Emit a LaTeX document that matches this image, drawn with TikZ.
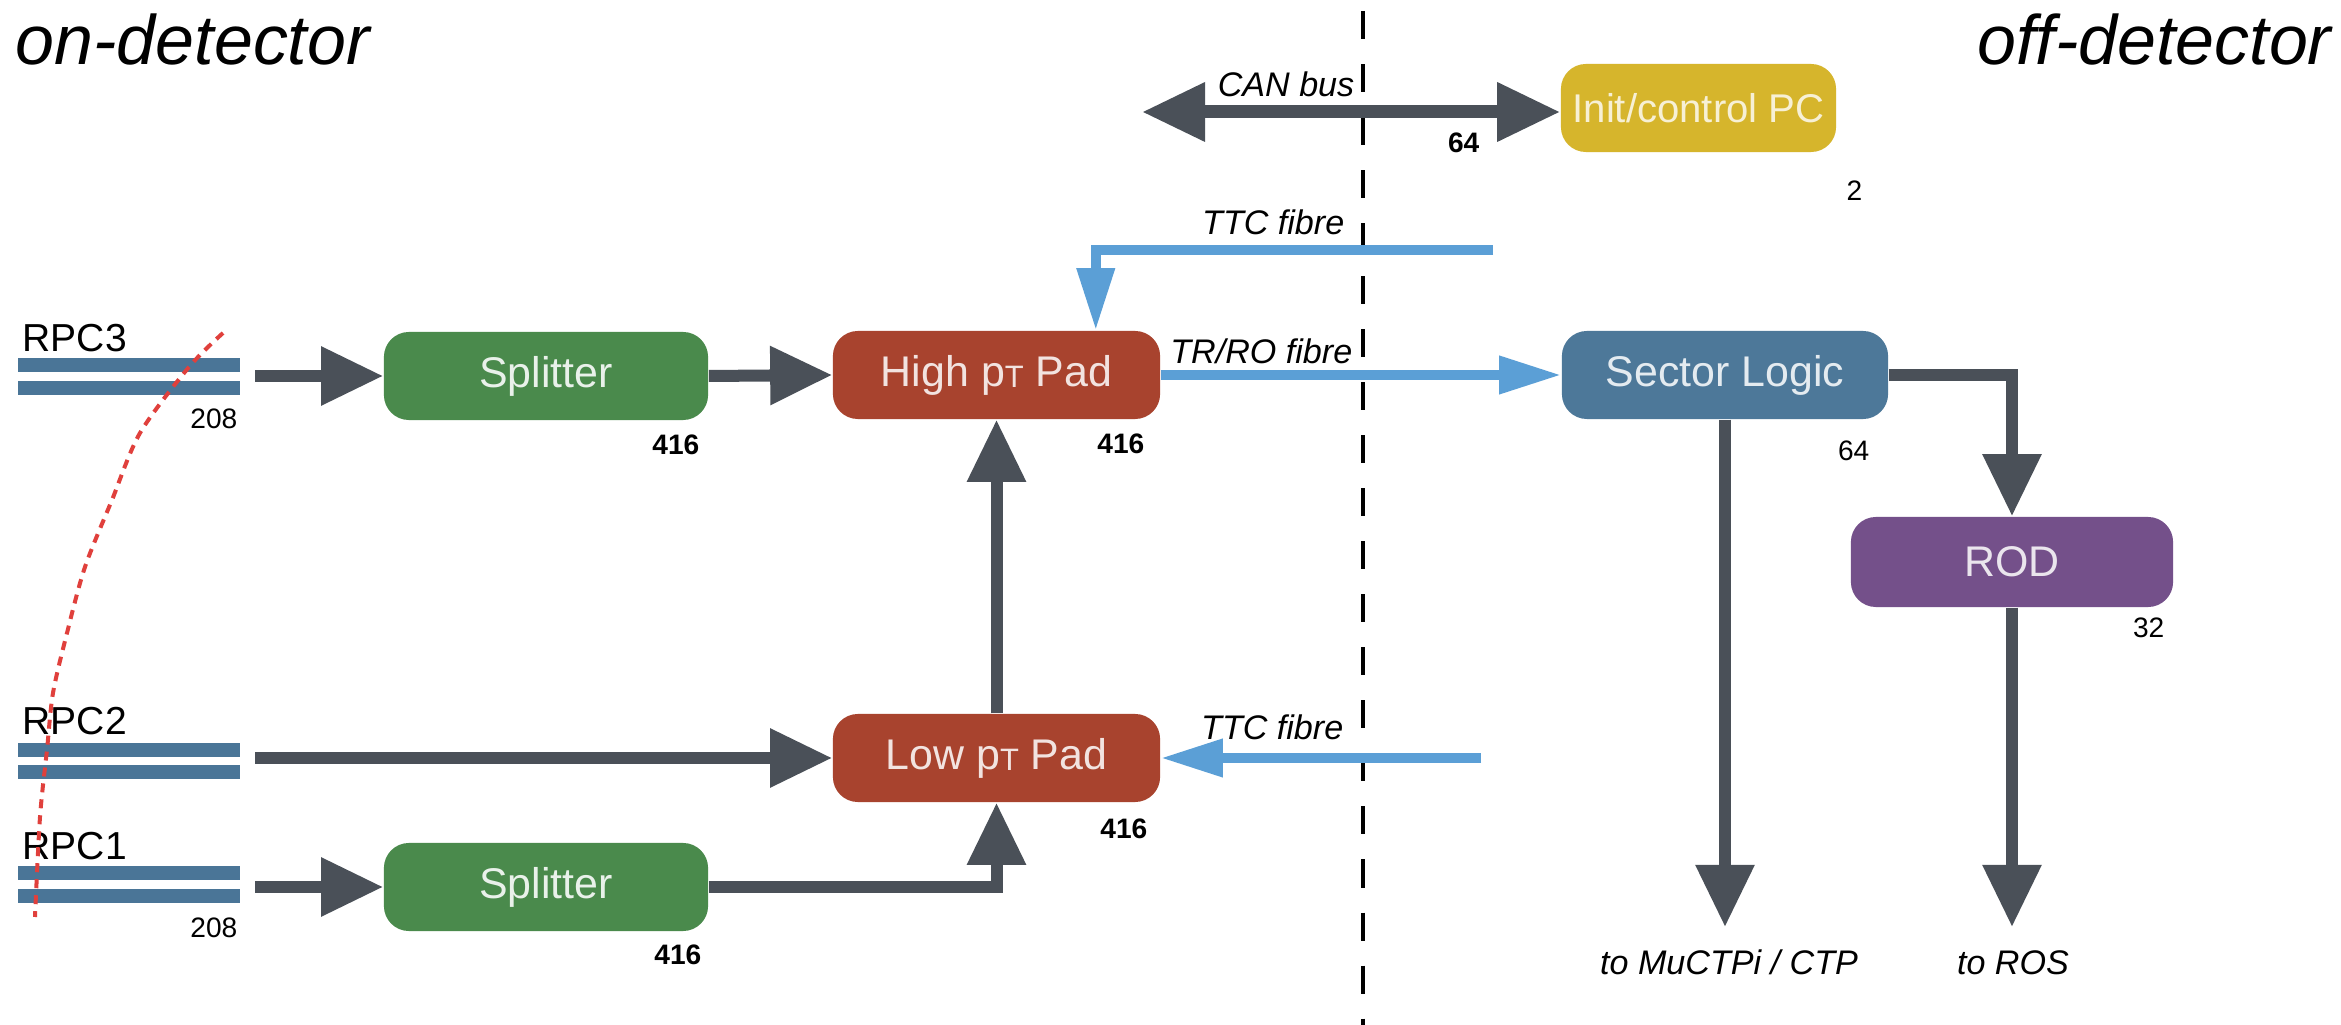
\documentclass[tikz,border=0pt]{standalone}
\usepackage{fontspec}
\setmainfont{Liberation Sans}
\usetikzlibrary{arrows.meta}
\definecolor{arrowgray}{HTML}{4A5058}
\definecolor{fibreblue}{HTML}{5B9FD6}
\definecolor{padred}{HTML}{A8432E}
\definecolor{splitgreen}{HTML}{4A8A4C}
\definecolor{slblue}{HTML}{4D7899}
\definecolor{rodpurple}{HTML}{74508A}
\definecolor{inityellow}{HTML}{D6B52C}
\definecolor{rpcblue}{HTML}{4A7597}
\definecolor{dashred}{HTML}{E0403C}
\newcommand{\pTsub}{p\raisebox{-0.3pt}{\fontsize{8.8}{9}\selectfont T}}
\begin{document}
\begin{tikzpicture}[x=0.01cm,y=-0.01cm,
  box/.style={rectangle, rounded corners=0.25cm, minimum height=0.88cm, inner sep=0pt,
    font=\fontsize{12.2}{14}\selectfont},
  bigarrow/.style={draw=arrowgray, line width=0.12cm, line join=miter,
    -{Triangle[width=0.56cm,length=0.62cm]}},
  fibre/.style={draw=fibreblue, line width=0.10cm, line join=miter,
    -{Triangle[width=0.36cm,length=0.62cm]}},
  num/.style={font=\fontsize{8}{9}\selectfont, inner sep=0pt},
  bnum/.style={font=\fontsize{8}{9}\selectfont\bfseries, inner sep=0pt},
  lab/.style={font=\fontsize{9.7}{11}\selectfont\itshape, inner sep=0pt},
  rpclab/.style={font=\fontsize{11.1}{12}\selectfont, inner sep=0pt, anchor=base west},
  side/.style={font=\fontsize{19.9}{22}\selectfont\itshape, inner sep=0pt},
  bar/.style={fill=rpcblue}
]
\useasboundingbox (0,0) rectangle (2341,1025);
\fill[white] (0,0) rectangle (2341,1025);

% side titles
\node[side, anchor=base west] (ondet) at (15,65) {on-detector};
\node[side, anchor=base east] (offdet) at (2332,65) {off-detector};

% boundary
\coordinate (divtop) at (1363,0);
\coordinate (divbot) at (1363,1025);
\draw[black, line width=0.04cm, dash pattern=on 0.28cm off 0.25cm, dash phase=0.42cm] (divtop) -- (divbot);

% boxes
\node[box, fill=splitgreen, text=white!88!splitgreen, minimum width=3.24cm] (splitA) at (546,376) {Splitter};
\node[box, fill=padred, text=white!85!padred, minimum width=3.27cm] (highpt) at (996.5,375) {High \pTsub{} Pad};
\node[box, fill=padred, text=white!85!padred, minimum width=3.27cm] (lowpt) at (996.5,758) {Low \pTsub{} Pad};
\node[box, fill=splitgreen, text=white!88!splitgreen, minimum width=3.24cm] (splitB) at (546,887) {Splitter};
\node[box, fill=inityellow, text=white!80!inityellow, minimum width=2.75cm, font=\fontsize{11.4}{13}\selectfont] (init) at (1698.5,108) {Init/control PC};
\node[box, fill=slblue, text=white!85!slblue, minimum width=3.26cm] (sector) at (1725,375) {Sector Logic};
\node[box, fill=rodpurple, text=white!85!rodpurple, minimum width=3.22cm, minimum height=0.90cm] (rod) at (2012,562) {ROD};

% RPC chambers
\fill[bar] (18,358) rectangle (240,372);
\fill[bar] (18,381) rectangle (240,395);
\fill[bar] (18,743) rectangle (240,757);
\fill[bar] (18,765) rectangle (240,779);
\fill[bar] (18,866) rectangle (240,880);
\fill[bar] (18,889) rectangle (240,903);
\node[rpclab] (rpc3) at (22,352) {RPC3};
\node[rpclab] (rpc2) at (22,735) {RPC2};
\node[rpclab] (rpc1) at (22,860) {RPC1};
\node[num, anchor=north east] (n208a) at (238,408) {208};
\node[num, anchor=north east] (n208b) at (238,917) {208};

% red dashed arc
\draw[dashred, line width=0.04cm, dash pattern=on 0.09cm off 0.07cm]
  plot[smooth] coordinates {(223,333) (189,367) (140,433) (112,500) (85,567) (67,633) (53,693) (47,750) (40,817) (35,917)};

% multiplicities
\node[bnum, anchor=north east] (n416a) at (700,434) {416};
\node[bnum, anchor=north east] (n416b) at (1145,433) {416};
\node[bnum, anchor=north east] (n416c) at (1148,818) {416};
\node[bnum, anchor=north east] (n416d) at (702,944) {416};
\node[num, anchor=north east] (n64s) at (1870,440) {64};
\node[num, anchor=north east] (n32) at (2165,617) {32};
\node[num, anchor=north east] (n2) at (1863,180) {2};
\node[bnum, anchor=north east] (n64c) at (1480,132) {64};

% free ends
\coordinate (rpc3out) at (255,376);
\coordinate (rpc2out) at (255,758);
\coordinate (rpc1out) at (255,887);
\coordinate (canleft) at (1142,112);
\coordinate (ttcAin) at (1493,250);
\coordinate (ttcBin) at (1481,758);
\coordinate (muend) at (1725,927);
\coordinate (rosend) at (2012,927);

% dark arrows
\draw[bigarrow] (rpc3out) -- (splitA.west);
\draw[bigarrow] (splitA.east) -- (highpt.west);
\draw[bigarrow] (rpc2out) -- (lowpt.west);
\draw[bigarrow] (rpc1out) -- (splitB.west);
\draw[bigarrow] (splitB.east) -| (lowpt.south);
\draw[bigarrow] (lowpt.north) -- (highpt.south);
\draw[bigarrow] (sector.east) -| (rod.north);
\draw[bigarrow] (sector.south) -- (muend);
\draw[bigarrow] (rod.south) -- (rosend);
\draw[draw=arrowgray, line width=0.13cm,
  {Triangle[width=0.56cm,length=0.63cm]}-{Triangle[width=0.56cm,length=0.63cm]}]
  (canleft) -- (canleft -| init.west);

% fibres
\draw[fibre] (ttcAin) -| ([xshift=-0.65cm]highpt.north east);
\draw[fibre] (highpt.east) -- (sector.west);
\draw[fibre] (ttcBin) -- (lowpt.east);

% labels
\node[lab, anchor=base east] (canlab) at (1355,97) {CAN bus};
\node[lab, anchor=base east] (ttcAlab) at (1345,235) {TTC fibre};
\node[lab, anchor=base east] (trrolab) at (1353,364) {TR/RO fibre};
\node[lab, anchor=base east] (ttcBlab) at (1344,740) {TTC fibre};
\node[lab, anchor=base] (mulab) at (1729,975) {to MuCTPi / CTP};
\node[lab, anchor=base] (roslab) at (2013,975) {to ROS};
\end{tikzpicture}
\end{document}
